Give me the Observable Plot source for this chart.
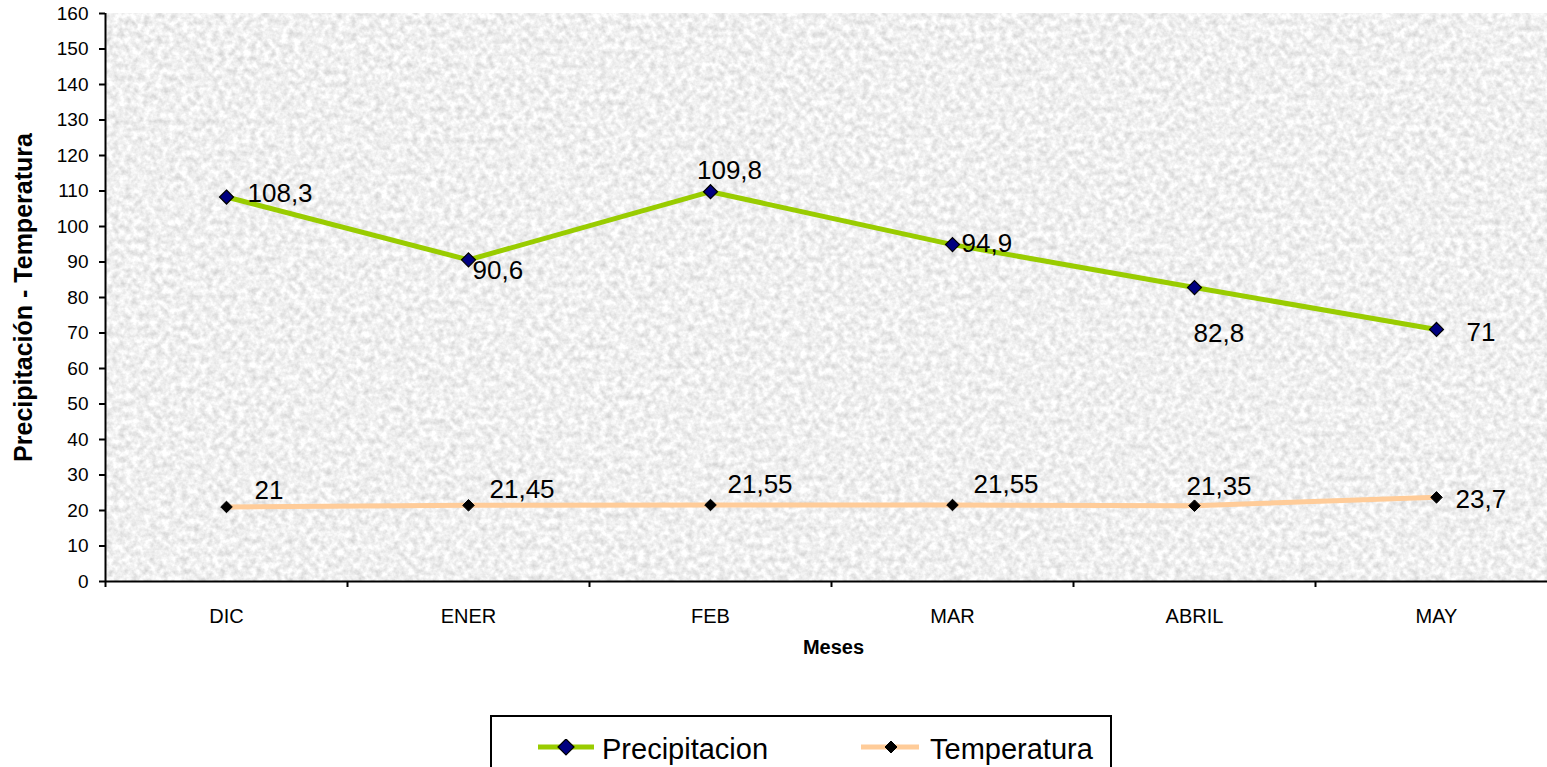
<!DOCTYPE html>
<html><head><meta charset="utf-8">
<script src="https://cdn.jsdelivr.net/npm/d3@7"></script>
<script src="https://cdn.jsdelivr.net/npm/@observablehq/plot@0.6"></script>
<style>
body{margin:0;background:#fff;font-family:Arial,"Liberation Sans",sans-serif;overflow:hidden;width:1547px;height:767px;position:relative}
#legend{position:absolute;left:490px;top:715px;width:622px;height:70px;border:2px solid #000;box-sizing:border-box;background:#fff}
.item{position:absolute;top:14px;display:flex;align-items:center;font-size:29px;color:#000;line-height:36px;white-space:nowrap}
</style>
</head><body>
<svg width="0" height="0" style="position:absolute"><defs>
<filter id="noise" x="0" y="0" width="1" height="1" filterUnits="objectBoundingBox" color-interpolation-filters="sRGB">
<feTurbulence type="fractalNoise" baseFrequency="0.16" numOctaves="3" seed="7" result="t"/>
<feColorMatrix in="t" type="matrix" values="0.28 0 0 0 0.8  0.28 0 0 0 0.8  0.28 0 0 0 0.8  0 0 0 0 1"/>
</filter></defs></svg>
<div id="chart"></div>
<div id="legend">
  <div class="item" style="left:46px"><svg width="56" height="20" style="margin-right:8px"><line x1="0" y1="8" x2="56" y2="8" stroke="#99CC00" stroke-width="5"/><path d="M28,0 L36,8 L28,16 L20,8 Z" fill="#000080" stroke="#000" stroke-width="1.2"/></svg>Precipitacion</div>
  <div class="item" style="left:369px"><svg width="58" height="20" style="margin-right:11px"><line x1="0" y1="8" x2="58" y2="8" stroke="#FFCC99" stroke-width="5"/><path d="M30,2 L36,8 L30,14 L24,8 Z" fill="#000" stroke="#000" stroke-width="1"/></svg>Temperatura</div>
</div>
<script>
const months = ["DIC", "ENER", "FEB", "MAR", "ABRIL", "MAY"];
const precipitacion = [108.3, 90.6, 109.8, 94.9, 82.8, 71];
const temperatura = [21, 21.45, 21.55, 21.55, 21.35, 23.7];
const yTicks = [0, 10, 20, 30, 40, 50, 60, 70, 80, 90, 100, 110, 120, 130, 140, 150, 160];
const yLabel = "Precipitación - Temperatura";
const xLabel = "Meses";

const rows = months.map((m, i) => ({i, m, p: precipitacion[i], t: temperatura[i]}));
const fmt = v => String(v).replace(".", ",");

// label placement (style only)
const pOff = [[21,-3,"start"],[4,11,"start"],[19,-21,"middle"],[9,-1,"start"],[-1,46,"start"],[30,3,"start"]];
const tOff = [[28,-16,"start"],[21,-16,"start"],[17,-20,"start"],[21,-20,"start"],[-8,-19,"start"],[19,2,"start"]];

const labelMarks = [];
rows.forEach((r, k) => {
  labelMarks.push(Plot.text([r], {x: "i", y: "p", text: d => fmt(d.p), dx: pOff[k][0], dy: pOff[k][1], textAnchor: pOff[k][2], fontSize: 26, fill: "#000"}));
  labelMarks.push(Plot.text([r], {x: "i", y: "t", text: d => fmt(d.t), dx: tOff[k][0], dy: tOff[k][1], textAnchor: tOff[k][2], fontSize: 26, fill: "#000"}));
});

const chart = Plot.plot({
  width: 1547,
  height: 690,
  marginLeft: 105,
  marginRight: 0,
  marginTop: 13,
  marginBottom: 109,
  style: {fontFamily: "Arial, 'Liberation Sans', sans-serif", fontSize: "19px", color: "#000", background: "transparent", overflow: "hidden"},
  x: {type: "linear", domain: [-0.5, 5.5], range: [105, 1557]},
  y: {domain: [0, 160], range: [581, 13]},
  marks: [
    Plot.frame({fill: "#ececec", stroke: null}),
    Plot.axisY({ticks: yTicks, tickSize: 6, tickPadding: 11, fontSize: 19, strokeWidth: 2, label: null}),
    Plot.axisX({ticks: d3.range(-0.5, 6, 1), tickFormat: () => "", tickSize: 6, strokeWidth: 2, label: null}),
    Plot.axisX({ticks: d3.range(0, 6), tickFormat: i => months[i], tickSize: 0, tickPadding: 27, fontSize: 20, label: null}),
    Plot.ruleY([0], {stroke: "#000", strokeWidth: 2}),
    Plot.ruleX([-0.5], {stroke: "#000", strokeWidth: 2}),
    Plot.text([yLabel], {frameAnchor: "left", textAnchor: "middle", dx: -82, rotate: -90, fontSize: 25, fontWeight: "bold", fill: "#000"}),
    Plot.text([xLabel], {frameAnchor: "bottom", dx: 7, dy: 72, fontSize: 20, fontWeight: "bold", fill: "#000"}),
    Plot.line(rows, {x: "i", y: "p", stroke: "#99CC00", strokeWidth: 5}),
    Plot.line(rows, {x: "i", y: "t", stroke: "#FFCC99", strokeWidth: 5}),
    Plot.dot(rows, {x: "i", y: "p", symbol: "diamond2", r: 6.3, fill: "#000080", stroke: "#000", strokeWidth: 1.2}),
    Plot.dot(rows, {x: "i", y: "t", symbol: "diamond2", r: 5.2, fill: "#000", stroke: "#000", strokeWidth: 1}),
    ...labelMarks
  ]
});
document.getElementById("chart").appendChild(chart);
const fr = d3.select(chart).select('[aria-label="frame"]');
if (fr.node() && fr.node().tagName.toLowerCase() === "rect") fr.attr("filter", "url(#noise)");
else fr.selectAll("rect").attr("filter", "url(#noise)");
</script>
</body></html>
